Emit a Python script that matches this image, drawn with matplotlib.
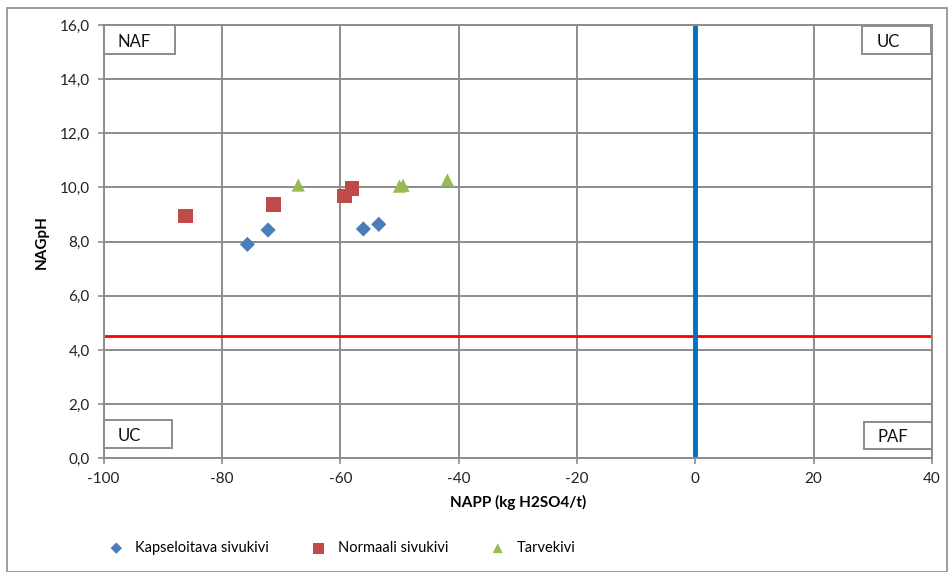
import matplotlib
matplotlib.use("Agg")
import matplotlib.pyplot as plt
from matplotlib.patches import Rectangle

plt.rcParams['font.family'] = ['Lato', 'DejaVu Sans']

# Data
kaps_x = [-75.7, -72.2, -56.1, -53.5]
kaps_y = [7.90, 8.43, 8.47, 8.64]
norm_x = [-86.2, -71.3, -59.3, -58.0]
norm_y = [8.95, 9.37, 9.69, 9.96]
tarv_x = [-67.1, -50.0, -49.4, -41.9]
tarv_y = [10.09, 10.05, 10.08, 10.28]

series_names = ["Kapseloitava sivukivi", "Normaali sivukivi", "Tarvekivi"]
xticks = [-100, -80, -60, -40, -20, 0, 20, 40]
yticks = [0, 2, 4, 6, 8, 10, 12, 14, 16]
ph_limit = 4.5
napp_limit = 0

W, H = 950, 572
fig = plt.figure(figsize=(W / 100, H / 100), dpi=100)
ax = fig.add_axes([103.6 / W, 1 - 458.3 / H, (932 - 103.6) / W, (458.3 - 25) / H])

ax.set_xlim(-100, 40)
ax.set_ylim(0, 16)
ax.set_xticks(xticks)
ax.set_yticks(yticks)
ax.set_yticklabels([f"{v:.1f}".replace(".", ",") for v in yticks])
ax.set_xticklabels([str(v) for v in xticks])
ax.grid(True, color="#8c8c8c", linewidth=1.4)
ax.set_axisbelow(True)
for s in ax.spines.values():
    s.set_color("#8c8c8c")
    s.set_linewidth(1.4)
ax.tick_params(axis="both", colors="#8c8c8c", labelcolor="#222222", labelsize=11,
               length=4, width=1.2, direction="out")
ax.tick_params(axis="x", pad=6)
ax.tick_params(axis="y", pad=6)

ax.axhline(ph_limit, color="#ff0000", linewidth=2, zorder=2)
ax.axvline(napp_limit, color="#0070c0", linewidth=3.5, zorder=2)

ax.scatter(kaps_x, kaps_y, marker="D", s=60, color="#4a7ebb", zorder=3, label=series_names[0], edgecolors="none")
ax.scatter(norm_x, norm_y, marker="s", s=110, color="#be4b48", zorder=3, label=series_names[1], edgecolors="none")
ax.scatter(tarv_x, tarv_y, marker="^", s=90, color="#98b954", zorder=3, label=series_names[2], edgecolors="none")

ax.set_xlabel("NAPP (kg H2SO4/t)", fontsize=11, fontweight="bold", labelpad=6)
ax.set_ylabel("NAGpH", fontsize=11, fontweight="bold", labelpad=8)

# Region label boxes (in pixel coords)
def box(x0, y0, x1, y1, txt):
    r = Rectangle((x0 / W, 1 - y1 / H), (x1 - x0) / W, (y1 - y0) / H,
                  transform=fig.transFigure, facecolor="white", edgecolor="#8c8c8c",
                  linewidth=1.4, zorder=5)
    fig.add_artist(r)
    fig.text((x0 + 14) / W, 1 - ((y0 + y1) / 2 + 2) / H, txt, fontsize=12, va="center",
             ha="left", color="#111111", zorder=6)

box(103.5, 25.5, 174.5, 53.7, "NAF")
box(862.3, 25.5, 931, 54, "UC")
box(103.5, 420, 172.3, 448.3, "UC")
box(863.7, 421.7, 932, 449.3, "PAF")

leg = fig.legend(loc="center left", bbox_to_anchor=(109 / W, 1 - 548 / H), ncol=3, frameon=False,
                 fontsize=10.5, handlelength=1.0, handletextpad=0.8, columnspacing=2.9,
                 scatterpoints=1, markerscale=0.75, borderaxespad=0, borderpad=0)

# Outer chart border
fig.add_artist(Rectangle((7 / W, 0.5 / H), (947 - 7) / W, (H - 8) / H, transform=fig.transFigure,
                         facecolor="none", edgecolor="#8c8c8c", linewidth=1.2))

fig.savefig("out.png", dpi=100)
